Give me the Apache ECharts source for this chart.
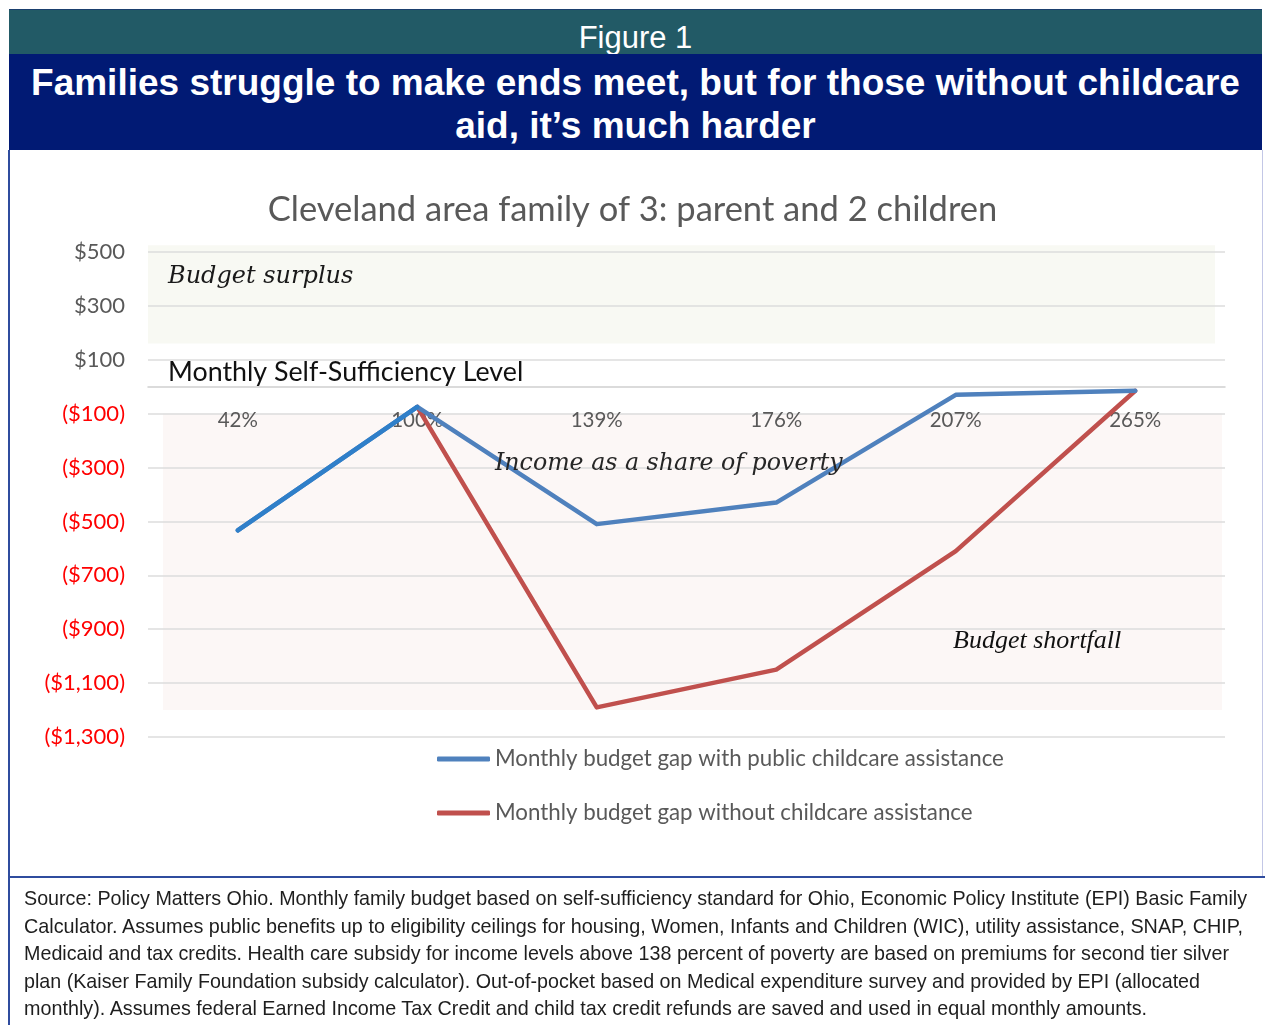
<!DOCTYPE html>
<html>
<head>
<meta charset="utf-8">
<script src="https://cdn.jsdelivr.net/npm/echarts@6/dist/echarts.min.js"></script>
<style>
  html, body { margin: 0; padding: 0; background: #fff; }
  body { width: 1265px; height: 1025px; position: relative; overflow: hidden; }
  #chart { position: absolute; left: 0; top: 0; width: 1265px; height: 1025px; }
  .band-top {
    position: absolute; left: 9px; top: 9px; width: 1253px; height: 45px;
    background: #225a66; border-top: 1px solid #1a3f6e;
    color: #fff; font-family: "Liberation Sans", Arial, sans-serif;
    font-size: 31px; line-height: 45px; text-align: center;
    padding-top: 5px; box-sizing: border-box;
  }
  .band-main {
    position: absolute; left: 9px; top: 54px; width: 1253px; height: 96px;
    background: #011a74; color: #fff;
    font-family: "Liberation Sans", Arial, sans-serif; font-weight: bold;
    font-size: 37px; line-height: 43px; text-align: center;
    padding-top: 7px; box-sizing: border-box; white-space: nowrap;
  }
  .frame-left { position: absolute; left: 8px; top: 150px; width: 2px; height: 880px; background: #2f4c9e; }
  .frame-right { position: absolute; left: 1262px; top: 150px; width: 1px; height: 727px; background: #c3c7e6; }
  .frame-mid { position: absolute; left: 8px; top: 876px; width: 1257px; height: 2px; background: #2f4c9e; }
  .source {
    position: absolute; left: 24px; top: 884px;
    font-family: "Liberation Sans Narrow", "Arial Narrow", "Liberation Sans", sans-serif;
    font-size: 21px; line-height: 27.5px; color: #1e1e1e;
    white-space: nowrap;
  }
  .source span { display: block; width: max-content; transform-origin: 0 50%; }
</style>
</head>
<body>
<div id="chart"></div>
<div class="band-top">Figure 1</div>
<div class="band-main">Families struggle to make ends meet, but for those without childcare<br>aid, it’s much harder</div>
<div class="frame-left"></div>
<div class="frame-right"></div>
<div class="frame-mid"></div>
<div class="source">
<span data-w="1223">Source: Policy Matters Ohio. Monthly family budget based on self-sufficiency standard for Ohio, Economic Policy Institute (EPI) Basic Family</span>
<span data-w="1219">Calculator. Assumes public benefits up to eligibility ceilings for housing, Women, Infants and Children (WIC), utility assistance, SNAP, CHIP,</span>
<span data-w="1205">Medicaid and tax credits. Health care subsidy for income levels above 138 percent of poverty are based on premiums for second tier silver</span>
<span data-w="1176">plan (Kaiser Family Foundation subsidy calculator). Out-of-pocket based on Medical expenditure survey and provided by EPI (allocated</span>
<span data-w="1123">monthly). Assumes federal Earned Income Tax Credit and child tax credit refunds are saved and used in equal monthly amounts.</span>
</div>
<script>
// Squeeze each source line to its condensed set width
document.querySelectorAll('.source span').forEach(function (el) {
  const target = parseFloat(el.getAttribute('data-w'));
  const w = el.getBoundingClientRect().width;
  if (w > 0) el.style.transform = 'scaleX(' + (target / w) + ')';
});

// Income as a share of the federal poverty level
const povertyShares = ['42%', '100%', '139%', '176%', '207%', '265%'];
// Monthly budget gap (dollars) with public childcare assistance
const gapWithAssistance = [-533, -75, -510, -430, -30, -15];
// Monthly budget gap (dollars) without childcare assistance
const gapWithoutAssistance = [null, -75, -1190, -1050, -610, -15];
// Value-axis range and the tick values that get a label and gridline
const axisMin = -1300;
const axisMax = 500;
const labelledTicks = [500, 300, 100, -100, -300, -500, -700, -900, -1100, -1300];
// Shaded bands: surplus above the self-sufficiency level, shortfall below it
const surplusBand = [160, 525];
const shortfallBand = [-100, -1200];

const seriesNames = [
  'Monthly budget gap with public childcare assistance',
  'Monthly budget gap without childcare assistance'
];

// The opening stretch (42% to 100%) of the assisted line, drawn in a brighter blue
const openingStretch = gapWithAssistance.map(function (v, i) { return i <= 1 ? v : null; });

function money(v) {
  const s = '$' + Math.abs(v).toLocaleString('en-US');
  return v < 0 ? '(' + s + ')' : s;
}

const chart = echarts.init(document.getElementById('chart'), null, { renderer: 'canvas' });

const calibriLike = 'Lato, "Open Sans", sans-serif';
const serifItalic = '"DejaVu Serif", serif';

chart.setOption({
  animation: false,
  backgroundColor: 'transparent',
  title: {
    text: 'Cleveland area family of 3: parent and 2 children',
    left: 'center',
    top: 187,
    textStyle: { fontFamily: calibriLike, fontWeight: 'normal', fontSize: 34.5, color: '#595959' }
  },
  grid: { left: 148, right: 40, top: 252, bottom: 288, containLabel: false },
  legend: {
    orient: 'vertical',
    left: 432,
    top: 743,
    icon: 'roundRect',
    itemWidth: 53,
    itemHeight: 5,
    itemGap: 32,
    textStyle: { fontFamily: calibriLike, fontSize: 22.3, color: '#595959' },
    data: [
      { name: seriesNames[0], itemStyle: { color: '#4f81bd' } },
      { name: seriesNames[1], itemStyle: { color: '#c0504d' } }
    ]
  },
  xAxis: {
    type: 'category',
    z: 2,
    data: povertyShares,
    boundaryGap: true,
    axisLine: { show: true, onZero: false, lineStyle: { color: '#d0d0d0', width: 1.5 } },
    axisTick: { show: false },
    axisLabel: { margin: 23, fontFamily: calibriLike, fontSize: 20.5, color: '#595959' },
    splitLine: { show: false }
  },
  yAxis: {
    type: 'value',
    z: 2,
    min: axisMin,
    max: axisMax,
    interval: 100,
    axisLine: { show: false },
    axisTick: { show: false },
    axisLabel: {
      margin: 23,
      fontFamily: calibriLike,
      fontSize: 22,
      formatter: function (v) {
        if (labelledTicks.indexOf(v) < 0) return '';
        return v < 0 ? '{neg|' + money(v) + '}' : '{pos|' + money(v) + '}';
      },
      rich: {
        pos: { fontFamily: calibriLike, fontSize: 22, color: '#595959' },
        neg: { fontFamily: calibriLike, fontSize: 22, color: '#ff0000' }
      }
    },
    splitLine: {
      show: true,
      lineStyle: { color: ['#dcdcdc', 'rgba(0,0,0,0)'], width: 1.5 }
    }
  },
  series: [
    {
      name: seriesNames[0],
      type: 'line',
      data: gapWithAssistance,
      symbol: 'none',
      z: 5,
      lineStyle: { color: '#4f81bd', width: 4.5, cap: 'round', join: 'round' },
      itemStyle: { color: '#4f81bd' }
    },
    {
      name: seriesNames[1],
      type: 'line',
      data: gapWithoutAssistance,
      symbol: 'none',
      z: 4,
      lineStyle: { color: '#c0504d', width: 4.5, cap: 'round', join: 'round' },
      itemStyle: { color: '#c0504d' }
    },
    {
      name: 'opening stretch',
      type: 'line',
      data: openingStretch,
      symbol: 'none',
      silent: true,
      z: 6,
      lineStyle: { color: '#2f7fc9', width: 4.5, cap: 'round', join: 'round' },
      itemStyle: { color: '#2f7fc9' }
    }
  ],
  graphic: [
    {
      type: 'text', left: 168, top: 265, z: 10,
      style: { text: 'Budget surplus', fontFamily: serifItalic, fontStyle: 'italic', fontSize: 24, fill: '#1a1a1a' }
    },
    {
      type: 'text', left: 168, top: 359, z: 10,
      style: { text: 'Monthly Self-Sufficiency Level', fontFamily: calibriLike, fontSize: 26.8, fill: '#111' }
    },
    {
      type: 'text', left: 495, top: 452, z: 10,
      style: { text: 'Income as a share of poverty', fontFamily: serifItalic, fontStyle: 'italic', fontSize: 23.7, fill: '#262626' }
    },
    {
      type: 'text', left: 953, top: 628, z: 10,
      style: { text: 'Budget shortfall', fontFamily: '"Liberation Serif", serif', fontStyle: 'italic', fontSize: 26, fill: '#111' }
    }
  ]
});

// Sit the category axis on the zero (self-sufficiency) level
const yPx = function (v) { return chart.convertToPixel({ yAxisIndex: 0 }, v); };
const zeroY = yPx(0);
const baseY = yPx(axisMin);

// Shaded bands behind the lines; the surplus band starts at the plot's left edge,
// the shortfall band is inset a little from it
chart.setOption({
  xAxis: { offset: zeroY - baseY },
  series: [{
    markArea: {
      silent: true,
      z: 1,
      data: [
        [
          { x: 148, y: yPx(surplusBand[1]), itemStyle: { color: '#f8f9f3' } },
          { x: 1215, y: yPx(surplusBand[0]) }
        ],
        [
          { x: 163, y: yPx(shortfallBand[0]), itemStyle: { color: '#fcf7f6' } },
          { x: 1222, y: yPx(shortfallBand[1]) }
        ]
      ]
    }
  }]
});
</script>
</body>
</html>
